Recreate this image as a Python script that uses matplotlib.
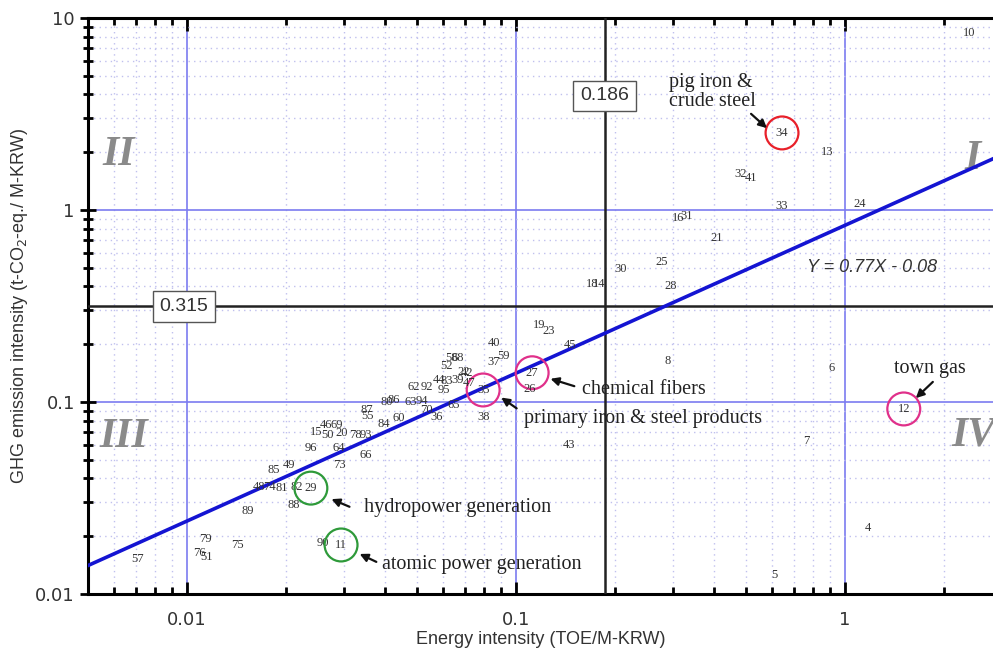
import numpy as np
import matplotlib
matplotlib.use('Agg')
import matplotlib.pyplot as plt
from matplotlib.ticker import FixedLocator, LogLocator, NullFormatter, FuncFormatter

# Номера отраслей и их координаты (энергоёмкость, выбросы ПГ)
labels = ['10', '34', '13', '32', '41', '33', '24', '16', '31', '21',
          '25', '30', '18', '14', '28', '19', '23', '45', '40', '37',
          '59', '8', '6', '27', '26', '35', '38', '12', '7', '43',
          '4', '5',
          '58', '68', '52', '22', '42', '44', '83', '39', '47', '62',
          '92', '95', '80', '86', '63', '94', '70', '65', '36', '84',
          '60', '87', '55', '15', '46', '69', '50', '20', '78', '93',
          '96', '64', '66', '73', '85', '49', '48', '74', '81', '82',
          '29', '88', '89', '79', '75', '76', '51', '57', '90', '11']
energy = [2.38, 0.644, 0.881, 0.483, 0.518, 0.64, 1.11, 0.311, 0.33, 0.408,
          0.278, 0.208, 0.170, 0.179, 0.296, 0.118, 0.126, 0.146, 0.0858, 0.0857,
          0.0919, 0.290, 0.911, 0.112, 0.11, 0.0795, 0.080, 1.51, 0.766, 0.145,
          1.175, 0.609,
          0.0639, 0.0666, 0.0613, 0.0695, 0.0710, 0.0583, 0.0617, 0.0664, 0.0720, 0.0490,
          0.0536, 0.0604, 0.0405, 0.0426, 0.0480, 0.0518, 0.0533, 0.0648, 0.0575, 0.0397,
          0.0441, 0.0353, 0.0355, 0.0247, 0.0265, 0.0286, 0.0267, 0.0296, 0.0326, 0.0350,
          0.0238, 0.0290, 0.0350, 0.0290, 0.0184, 0.0204, 0.0166, 0.0178, 0.0194, 0.0215,
          0.0238, 0.0211, 0.0153, 0.0114, 0.0142, 0.0109, 0.0115, 0.00705, 0.0259, 0.0294]
ghg = [8.36, 2.52, 2.00, 1.54, 1.47, 1.05, 1.07, 0.908, 0.93, 0.715,
       0.536, 0.493, 0.412, 0.412, 0.402, 0.252, 0.234, 0.198, 0.203, 0.162,
       0.174, 0.164, 0.150, 0.142, 0.117, 0.1155, 0.0835, 0.092, 0.0627, 0.0597,
       0.0221, 0.0126,
       0.1695, 0.1695, 0.154, 0.1433, 0.1416, 0.130, 0.1287, 0.130, 0.1256, 0.1197,
       0.1197, 0.1155, 0.100, 0.1024, 0.100, 0.1012, 0.0909, 0.0965, 0.0835, 0.0768,
       0.0825, 0.0909, 0.0846, 0.0698, 0.0759, 0.0759, 0.0673, 0.0690, 0.0673, 0.0673,
       0.0576, 0.0576, 0.0530, 0.0470, 0.0443, 0.0470, 0.0361, 0.0361, 0.0356, 0.0361,
       0.0356, 0.0291, 0.0270, 0.0193, 0.0180, 0.0164, 0.0156, 0.0152, 0.0184, 0.0180]

# Выделенные отрасли (номер -> цвет круга)
circled = {'34': '#e8202a', '35': '#e0308a', '27': '#e0308a', '12': '#e0308a',
           '29': '#2e9a3a', '11': '#2e9a3a'}

# Пороговые значения и регрессия (log Y = 0.77 log X - 0.08)
x_thr = 0.186
y_thr = 0.315
slope, intercept = 0.77, -0.08

xlim = (0.005, 2.82)
ylim = (0.01, 10)

fig = plt.figure(figsize=(9.93, 6.57), dpi=100)
ax = fig.add_axes([0.0886, 0.0959, 0.9114, 0.8767])
ax.set_xscale('log')
ax.set_yscale('log')
ax.set_xlim(*xlim)
ax.set_ylim(*ylim)

# Сетка
ax.xaxis.set_minor_locator(LogLocator(base=10, subs=np.arange(2, 10)))
ax.yaxis.set_minor_locator(LogLocator(base=10, subs=np.arange(2, 10)))
ax.grid(True, which='minor', color='#c0c0ee', linestyle=(0, (1, 3)), linewidth=1.0)
ax.grid(True, which='major', color='#7c7cf0', linestyle='-', linewidth=1.2)

ax.xaxis.set_major_locator(FixedLocator([0.01, 0.1, 1]))
ax.yaxis.set_major_locator(FixedLocator([0.01, 0.1, 1, 10]))
fmt = FuncFormatter(lambda v, p: ('%g' % v))
ax.xaxis.set_major_formatter(fmt)
ax.yaxis.set_major_formatter(fmt)
ax.xaxis.set_minor_formatter(NullFormatter())
ax.yaxis.set_minor_formatter(NullFormatter())

ax.tick_params(axis='x', which='both', direction='in', top=True, width=2, labelsize=13,
               labelcolor='#333333', pad=12)
ax.tick_params(axis='x', which='major', length=9)
ax.tick_params(axis='x', which='minor', length=5)
ax.tick_params(axis='y', which='both', direction='inout', width=2, labelsize=13,
               labelcolor='#333333')
ax.tick_params(axis='y', which='major', length=12)
ax.tick_params(axis='y', which='minor', length=7)
for s in ['left', 'bottom', 'top']:
    ax.spines[s].set_linewidth(2.2)
ax.spines['right'].set_visible(False)

# Пороговые линии
ax.axvline(x_thr, color='#222222', linewidth=1.8, zorder=3)
ax.axhline(y_thr, color='#222222', linewidth=1.8, zorder=3)
ax.text(x_thr, 3.93, '0.186', ha='center', va='center', fontsize=14, color='#333333',
        family='Liberation Sans', zorder=5,
        bbox=dict(boxstyle='square,pad=0.35', facecolor='white', edgecolor='#555555'))
ax.text(0.0098, y_thr, '0.315', ha='center', va='center', fontsize=14, color='#333333',
        family='Liberation Sans', zorder=5,
        bbox=dict(boxstyle='square,pad=0.35', facecolor='white', edgecolor='#555555'))

# Линия регрессии
xs = np.logspace(np.log10(xlim[0]), np.log10(xlim[1]), 50)
ax.plot(xs, 10 ** (slope * np.log10(xs) + intercept), color='#1414d2', linewidth=2.6, zorder=4)
ax.text(1.21, 0.499, 'Y = 0.77X - 0.08', ha='center', va='center', fontsize=13,
        style='italic', color='#333333', family='Liberation Sans', zorder=5)

# Номера квадрантов
quad = dict(fontsize=30, fontweight='bold', style='italic', color='#8a8a8a',
            family='Liberation Serif', ha='center', va='center', clip_on=True, zorder=2)
ax.text(0.00621, 1.93, 'II', **quad)
ax.text(2.45, 1.85, 'I', **quad)
ax.text(0.00643, 0.0657, 'III', **quad)
ax.text(2.45, 0.0673, 'IV', **quad)

# Подписи точек
for lab, xv, yv in zip(labels, energy, ghg):
    ax.text(xv, yv, lab, ha='center', va='center', fontsize=9, color='#333333',
            family='Liberation Serif', zorder=6)
    if lab in circled:
        ax.scatter([xv], [yv], s=560, facecolors='none', edgecolors=circled[lab],
                   linewidths=1.6, zorder=6)

# Пояснения со стрелками
note = dict(fontsize=14.5, family='Liberation Serif', color='#222222', zorder=7)
arrow = dict(arrowstyle='-|>', color='#111111', linewidth=1.6, mutation_scale=12)
ax.text(0.292, 4.12, 'pig iron &\ncrude steel', ha='left', va='center', linespacing=0.95, **note)
ax.annotate('', xy=(0.588, 2.61), xytext=(0.511, 3.24), arrowprops=arrow, zorder=7)
ax.text(0.1588, 0.1155, 'chemical fibers', ha='left', va='center', **note)
ax.annotate('', xy=(0.125, 0.1334), xytext=(0.1533, 0.1197), arrowprops=arrow, zorder=7)
ax.text(0.1057, 0.0825, 'primary iron & steel products', ha='left', va='center', **note)
ax.annotate('', xy=(0.0888, 0.1075), xytext=(0.1021, 0.0909), arrowprops=arrow, zorder=7)
ax.text(1.81, 0.1503, 'town gas', ha='center', va='center', **note)
ax.annotate('', xy=(1.62, 0.1024), xytext=(1.877, 0.1302), arrowprops=arrow, zorder=7)
ax.text(0.0345, 0.0281, 'hydropower generation', ha='left', va='center', **note)
ax.annotate('', xy=(0.0270, 0.0316), xytext=(0.03175, 0.0281), arrowprops=arrow, zorder=7)
ax.text(0.03915, 0.01416, 'atomic power generation', ha='left', va='center', **note)
ax.annotate('', xy=(0.0329, 0.0164), xytext=(0.0383, 0.01449), arrowprops=arrow, zorder=7)

# Подписи осей
ax.set_xlabel('Energy intensity (TOE/M-KRW)', fontsize=13, color='#333333',
              family='Liberation Sans', labelpad=2)
ax.set_ylabel('GHG emission intensity (t-CO$_2$-eq./ M-KRW)', fontsize=13, color='#333333',
              family='Liberation Sans', labelpad=4)

fig.savefig('out.png', dpi=100)
